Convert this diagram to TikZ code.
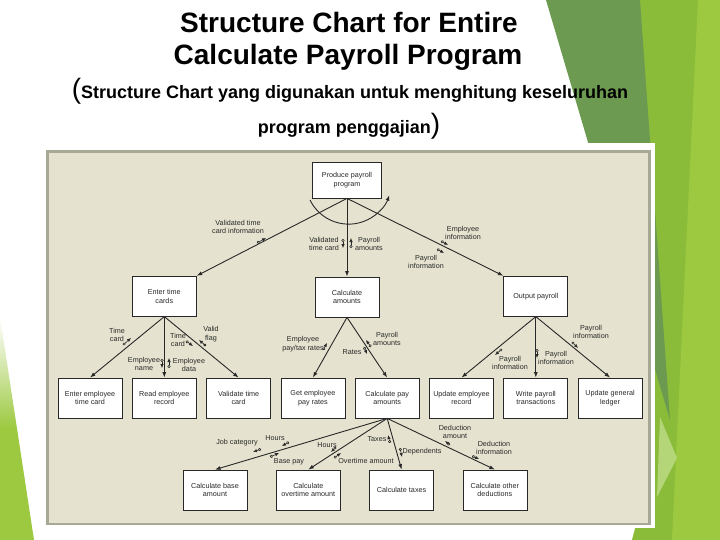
\documentclass[tikz,border=0pt]{standalone}
\usepackage{fontspec}
\setmainfont{Liberation Sans}
\usetikzlibrary{arrows.meta,positioning}
\definecolor{ink}{RGB}{40,40,40}
\definecolor{panelbg}{RGB}{229,227,207}
\definecolor{panelrule}{RGB}{168,168,150}
\definecolor{leafdark}{RGB}{108,154,80}
\definecolor{leaflime}{RGB}{138,188,58}
\definecolor{leaflight}{RGB}{156,201,64}
\definecolor{leafpale}{RGB}{180,214,120}
\newcommand{\chartfont}{\fontsize{7.2}{8.6}\selectfont}
\newcommand{\couple}[4][open]{%
  \coordinate (#2-t) at (#3); \coordinate (#2-h) at (#4);
  \draw[couple,{Circle[#1,length=3pt]}-{Latex[length=4pt,width=3.4pt]}] (#2-t) -- (#2-h);}

\begin{document}
\begin{tikzpicture}[x=1pt,y=-1pt,>={Latex[length=5.5pt,width=4pt]},
  box/.style={draw=ink,fill=white,line width=0.8pt,minimum width=64pt,minimum height=40pt,
    align=center,inner sep=1pt,font=\chartfont,text=ink},
  lbl/.style={align=center,inner sep=0pt,font=\chartfont,text=ink},
  link/.style={->,draw=ink,line width=0.9pt},
  couple/.style={draw=ink,line width=0.6pt}]
\useasboundingbox (0,0) rectangle (720,540);
\fill[white] (0,0) rectangle (720,540);

% green slide decoration
\fill[leaflime] (620,0) -- (720,0) -- (720,540) -- (632,540) -- (650,470) -- cycle;
\fill[leaflight] (698,0) -- (720,0) -- (720,540) -- (672,540) -- cycle;
\fill[leafdark] (546,0) -- (640,0) -- (670,420) -- cycle;
\fill[leafpale] (660,417) -- (677,458) -- (657,497) -- cycle;
\shade[top color=white,bottom color=leaflight,middle color=leaflight] (0,317) -- (34,540) -- (0,540) -- cycle;

% title
\node[anchor=base,font=\fontsize{28}{30}\selectfont\bfseries] (title1) at (349,33) {Structure Chart for Entire};
\node[anchor=base,font=\fontsize{28}{30}\selectfont\bfseries] (title2) at (348,65) {Calculate Payroll Program};
\node[anchor=base,font=\fontsize{18}{20}\selectfont\bfseries] (sub1) at (350,99)
  {{\fontsize{28}{28}\selectfont\mdseries(}Structure Chart yang digunakan untuk menghitung keseluruhan};
\node[anchor=base,font=\fontsize{18}{20}\selectfont\bfseries] (sub2) at (349,134)
  {program penggajian{\fontsize{28}{28}\selectfont\mdseries)}};

% panel
\fill[white] (44,143) rectangle (655,528);
\filldraw[fill=panelbg,draw=panelrule,line width=2.7pt] (47.3,151.3) rectangle (649.7,524);

% modules
\node[box] (eetc) at (90,398) {Enter employee\\time card};
\node[box,right=9.5pt of eetc] (rer) {Read employee\\record};
\node[box,right=9.5pt of rer] (vtc) {Validate time\\card};
\node[box,right=9.5pt of vtc] (gepr) {Get employee\\pay rates};
\node[box,right=9.5pt of gepr] (cpa) {Calculate pay\\amounts};
\node[box,right=9.5pt of cpa] (uer) {Update employee\\record};
\node[box,right=9.5pt of uer] (wpt) {Write payroll\\transactions};
\node[box,right=9.5pt of wpt] (ugl) {Update general\\ledger};

\node[box,above=61pt of rer] (etc) {Enter time\\cards};
\node[box] (ca) at (347,297) {Calculate\\amounts};
\node[box,above=61pt of wpt] (op) {Output payroll};
\node[box,minimum width=69pt,minimum height=36pt] (prod) at (347,180) {Produce payroll\\program};

\node[box] (cba) at (215,490) {Calculate base\\amount};
\node[box,right=28.5pt of cba] (coa) {Calculate\\overtime amount};
\node[box,right=28.5pt of coa] (ct) {Calculate taxes};
\node[box,right=28.5pt of ct] (cod) {Calculate other\\deductions};

% calls
\draw[link] (prod.south) -- (etc.north east);
\draw[link] (prod.south) -- (ca.north);
\draw[link] (prod.south) -- (op.north west);
\draw[link] (etc.south) -- (eetc.north);
\draw[link] (etc.south) -- (rer.north);
\draw[link] (etc.south) -- (vtc.north);
\draw[link] (ca.south) -- (gepr.north);
\draw[link] (ca.south) -- (cpa.north);
\draw[link] (op.south) -- (uer.north);
\draw[link] (op.south) -- (wpt.north);
\draw[link] (op.south) -- (ugl.north);
\draw[link] (cpa.south) -- (cba.north);
\draw[link] (cpa.south) -- (coa.north);
\draw[link] (cpa.south) -- (ct.north);
\draw[link] (cpa.south) -- (cod.north);
\draw[link] ([shift={(-37pt,-20pt)}]prod.center) arc[start angle=206,end angle=341,radius=43pt];

% couples and their labels
\couple{vtci}{257,243}{266,238}
\node[lbl] (l-vtci) at (238,227) {Validated time\\card information};
\couple{vtcd}{343,239}{343,248}
\node[lbl] (l-vtcd) at (324,244) {Validated\\time card};
\couple{pam}{351,248}{351,238}
\node[lbl] (l-pam) at (369,244) {Payroll\\amounts};
\couple{einf}{441,241}{448,245}
\node[lbl] (l-einf) at (463,233) {Employee\\information};
\couple{pinf}{437,249}{444,253}
\node[lbl] (l-pinf) at (426,262) {Payroll\\information};

\couple{tc1}{123,345}{131,338}
\node[lbl] (l-tc1) at (117,335) {Time\\card};
\couple{tc2}{186,341}{193,346}
\node[lbl] (l-tc2) at (178,340) {Time\\card};
\couple[fill=ink]{vfl}{206,346}{199,340}
\node[lbl] (l-vfl) at (211,334) {Valid\\flag};
\couple{ename}{162,359}{162,368}
\node[lbl] (l-ename) at (144,364) {Employee\\name};
\couple{edata}{169,368}{169,358}
\node[lbl] (l-edata) at (189,365) {Employee\\data};

\couple{eptr}{323,350}{327,343}
\node[lbl] (l-eptr) at (303,344) {Employee\\pay/tax rates};
\couple{pam2}{371,347}{366,340}
\node[lbl] (l-pam2) at (387,339) {Payroll\\amounts};
\couple{rates}{364,347}{367,354}
\node[lbl] (l-rates) at (352,352) {Rates};

\couple{pi1}{502,349}{495,355}
\node[lbl] (l-pi1) at (510,363) {Payroll\\information};
\couple{pi2}{537,349}{537,358}
\node[lbl] (l-pi2) at (556,358) {Payroll\\information};
\couple{pi3}{572,342}{578,348}
\node[lbl] (l-pi3) at (591,332) {Payroll\\information};

\couple{jcat}{261,449}{253,452}
\node[lbl] (l-jcat) at (237,443) {Job category};
\couple{hrs1}{289,442}{282,446}
\node[lbl] (l-hrs1) at (275,438) {Hours};
\couple{bpay}{270,457}{279,453}
\node[lbl] (l-bpay) at (289,462) {Base pay};
\couple{hrs2}{336,447}{331,452}
\node[lbl] (l-hrs2) at (327,445) {Hours};
\couple{otam}{334,458}{341,453}
\node[lbl] (l-otam) at (366,461) {Overtime amount};
\couple{taxes}{390,443}{388,435}
\node[lbl] (l-taxes) at (377,439) {Taxes};
\couple{deps}{400,448}{402,457}
\node[lbl] (l-deps) at (422,452) {Dependents};
\couple{dam}{450,445}{445,441}
\node[lbl] (l-dam) at (455,432) {Deduction\\amount};
\couple{dinf}{472,456}{479,459}
\node[lbl] (l-dinf) at (494,448) {Deduction\\information};
\end{tikzpicture}
\end{document}
